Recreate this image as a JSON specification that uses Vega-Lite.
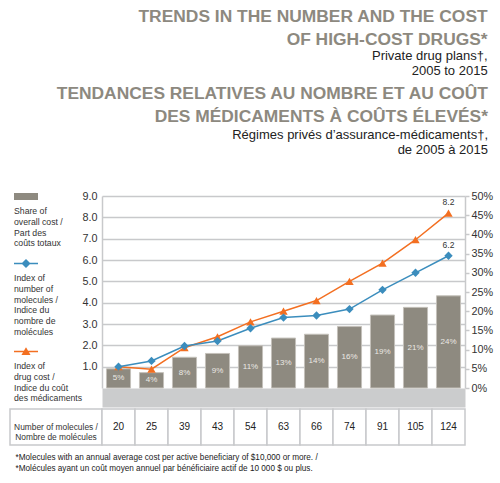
{
  "$schema": "https://vega.github.io/schema/vega-lite/v6.json",
  "autosize": {"type": "none"},
  "padding": {"left": 10, "top": 196, "right": 490, "bottom": 287},
  "background": "white",
  "config": {
    "font": "Liberation Sans",
    "view": {"stroke": null},
    "axis": {"labelFont": "Liberation Sans", "titleFont": "Liberation Sans"}
  },
  "title": {
    "text": ["TRENDS IN THE NUMBER AND THE COST", "OF HIGH-COST DRUGS*"],
    "subtitle": ["Private drug plans†,", "2005 to 2015"],
    "anchor": "end", "frame": "bounds", "dx": -5,
    "font": "Liberation Sans", "fontSize": 17.4, "fontWeight": "bold", "color": "#8d897f", "lineHeight": 23,
    "subtitleFont": "Liberation Sans", "subtitleFontSize": 13, "subtitleColor": "#222222", "subtitleLineHeight": 15, "subtitlePadding": 2,
    "offset": 7
  },
  "datasets": {
    "main": [
      {"year": "2005", "share": 0.05},
      {"year": "2006", "share": 0.04},
      {"year": "2007", "share": 0.08},
      {"year": "2008", "share": 0.09},
      {"year": "2009", "share": 0.11},
      {"year": "2010", "share": 0.13},
      {"year": "2011", "share": 0.14},
      {"year": "2012", "share": 0.16},
      {"year": "2013", "share": 0.19},
      {"year": "2014", "share": 0.21},
      {"year": "2015", "share": 0.24}
    ],
    "idx": [
      {"year": "2005", "series": "cost", "value": 1.0},
      {"year": "2006", "series": "cost", "value": 0.88},
      {"year": "2007", "series": "cost", "value": 1.89},
      {"year": "2008", "series": "cost", "value": 2.4},
      {"year": "2009", "series": "cost", "value": 3.1},
      {"year": "2010", "series": "cost", "value": 3.6},
      {"year": "2011", "series": "cost", "value": 4.1},
      {"year": "2012", "series": "cost", "value": 5.0},
      {"year": "2013", "series": "cost", "value": 5.85},
      {"year": "2014", "series": "cost", "value": 6.95},
      {"year": "2015", "series": "cost", "value": 8.2},
      {"year": "2005", "series": "mol", "value": 1.0},
      {"year": "2006", "series": "mol", "value": 1.27},
      {"year": "2007", "series": "mol", "value": 1.97},
      {"year": "2008", "series": "mol", "value": 2.2},
      {"year": "2009", "series": "mol", "value": 2.8},
      {"year": "2010", "series": "mol", "value": 3.3},
      {"year": "2011", "series": "mol", "value": 3.4},
      {"year": "2012", "series": "mol", "value": 3.7},
      {"year": "2013", "series": "mol", "value": 4.6},
      {"year": "2014", "series": "mol", "value": 5.4},
      {"year": "2015", "series": "mol", "value": 6.2}
    ],
    "keys": [
      {"year": "2005", "series": "share", "value": 1.0},
      {"year": "2005", "series": "mol", "value": 1.0},
      {"year": "2005", "series": "cost", "value": 1.0}
    ],
    "table": [
      {"year": "2005", "molecules": 20},
      {"year": "2006", "molecules": 25},
      {"year": "2007", "molecules": 39},
      {"year": "2008", "molecules": 43},
      {"year": "2009", "molecules": 54},
      {"year": "2010", "molecules": 63},
      {"year": "2011", "molecules": 66},
      {"year": "2012", "molecules": 74},
      {"year": "2013", "molecules": 91},
      {"year": "2014", "molecules": 105},
      {"year": "2015", "molecules": 124}
    ]
  },
  "bounds": "flush",
  "columns": 2,
  "spacing": {"row": 21, "column": 0},
  "resolve": {"scale": {"color": "independent", "shape": "independent"}, "legend": {"color": "independent", "shape": "independent"}},
  "concat": [
    {
      "width": 92,
      "height": 192,
      "data": {"values": []},
      "mark": "point"
    },
    {
      "width": 363,
      "height": 192,
      "title": {
        "text": ["TENDANCES RELATIVES AU NOMBRE ET AU COÛT", "DES MÉDICAMENTS À COÛTS ÉLEVÉS*"],
        "subtitle": ["Régimes privés d’assurance-médicaments†,", "de 2005 à 2015"],
        "anchor": "end", "frame": "group", "dx": 23,
        "font": "Liberation Sans", "fontSize": 17.4, "fontWeight": "bold", "color": "#8d897f", "lineHeight": 23,
        "subtitleFont": "Liberation Sans", "subtitleFontSize": 13, "subtitleColor": "#222222", "subtitleLineHeight": 15, "subtitlePadding": 3,
        "offset": 28
      },
      "encoding": {
        "x": {
          "field": "year", "type": "ordinal",
          "scale": {"paddingInner": 0.27, "paddingOuter": 0.135},
          "axis": {
            "title": null, "orient": "bottom", "offset": 9.5,
            "domain": true, "domainColor": "#cbcccd", "domainWidth": 19,
            "ticks": false, "tickSize": 0,
            "labelFontSize": 7.2, "labelColor": "#333333", "labelBaseline": "middle", "labelPadding": 1, "labelAngle": 0
          }
        }
      },
      "layer": [
        {
          "data": {"name": "main"},
          "mark": {"type": "bar", "stroke": "#c4c1ba", "strokeWidth": 1},
          "encoding": {
            "y": {
              "field": "share", "type": "quantitative",
              "scale": {"domain": [0, 0.5], "nice": false},
              "axis": {
                "orient": "right", "title": null, "grid": false,
                "values": [0, 0.05, 0.1, 0.15, 0.2, 0.25, 0.3, 0.35, 0.4, 0.45, 0.5],
                "format": ".0%",
                "domain": true, "domainColor": "#c8c9cb", "domainWidth": 1.5,
                "ticks": true, "tickSize": 4, "tickColor": "#c8c9cb", "tickWidth": 1.5,
                "labelFontSize": 10.8, "labelColor": "#333333", "labelPadding": 2
              }
            },
            "color": {
              "datum": "share",
              "title": null,
              "scale": {"domain": ["share", "mol", "cost"], "range": ["#8e8a80", "#3b8dbd", "#f36f21"]},
              "legend": {
                "orient": "none", "legendX": -88, "legendY": -11.5, "title": null, "padding": 0,
                "symbolSize": 576, "symbolStrokeWidth": 0, "symbolOffset": 0, "symbolOpacity": 1,
                "labelExpr": "datum.value === 'share' ? ['', 'Share of','overall cost /','Part des','coûts totaux'] : datum.value === 'mol' ? ['', 'Index of','number of','molecules /','Indice du','nombre de','molécules'] : ['', 'Index of','drug cost /','Indice du coût','des médicaments']",
                "labelBaseline": "top", "labelOffset": -24, "labelFontSize": 8.7, "labelColor": "#333333", "labelLimit": 200,
                "rowPadding": 3,
                "encode": {"labels": {"dy": {"value": -3}, "lineHeight": {"value": 10}}}
              }
            }
          }
        },
        {
          "data": {"name": "main"},
          "mark": {"type": "text", "fontSize": 8, "color": "#ebe9e4", "baseline": "middle"},
          "encoding": {
            "y": {"field": "share", "type": "quantitative", "scale": {"domain": [0, 1], "nice": false}, "axis": null},
            "text": {"field": "share", "type": "quantitative", "format": ".0%"}
          }
        },
        {
          "data": {"name": "idx"},
          "encoding": {
            "y": {
              "field": "value", "type": "quantitative",
              "scale": {"domain": [0, 9], "nice": false},
              "axis": {
                "orient": "left", "title": null,
                "values": [1, 2, 3, 4, 5, 6, 7, 8, 9], "format": ".1f",
                "grid": true, "gridColor": "#c8c9cb", "gridWidth": 1.5,
                "domain": true, "domainColor": "#c8c9cb", "domainWidth": 1.5,
                "ticks": false, "labelFontSize": 10.8, "labelColor": "#333333", "labelPadding": 5
              }
            },
            "color": {
              "field": "series", "type": "nominal", "title": null,
              "legend": {
                "orient": "none", "legendX": -88, "legendY": -11.5, "title": null, "padding": 0,
                "symbolSize": 576, "symbolStrokeWidth": 0, "symbolOffset": 0, "symbolOpacity": 1,
                "labelExpr": "datum.value === 'share' ? ['', 'Share of','overall cost /','Part des','coûts totaux'] : datum.value === 'mol' ? ['', 'Index of','number of','molecules /','Indice du','nombre de','molécules'] : ['', 'Index of','drug cost /','Indice du coût','des médicaments']",
                "labelBaseline": "top", "labelOffset": -24, "labelFontSize": 8.7, "labelColor": "#333333", "labelLimit": 200,
                "rowPadding": 3,
                "encode": {"labels": {"dy": {"value": -3}, "lineHeight": {"value": 10}}}
              }
            }
          },
          "layer": [
            {
              "mark": {"type": "line", "strokeWidth": 1.5},
              "encoding": {"order": {"field": "year"}}
            },
            {
              "transform": [{"filter": "datum.series === 'cost'"}],
              "mark": {"type": "point", "filled": true, "opacity": 1, "size": 70, "shape": "triangle-up"}
            },
            {
              "transform": [{"filter": "datum.series === 'mol'"}],
              "mark": {"type": "point", "filled": true, "opacity": 1, "size": 70, "shape": "diamond"}
            },
            {
              "data": {"name": "keys"},
              "mark": {"type": "point", "filled": true, "opacity": 0},
              "encoding": {
                "shape": {
                  "field": "series", "type": "nominal", "title": null,
                  "scale": {"domain": ["share", "mol", "cost"], "range": ["M0,-1Z M0,1Z M-1,-0.29H1V0.29H-1Z", "M0,-1Z M0,1Z M-1,-0.06H1V0.06H-1Z M0,-0.38L0.38,0L0,0.38L-0.38,0Z", "M0,-1Z M0,1Z M-1,-0.06H1V0.06H-1Z M0,-0.36L0.38,0.3L-0.38,0.3Z"]},
                  "legend": {
                    "orient": "none", "legendX": -88, "legendY": -11.5, "title": null, "padding": 0,
                    "symbolSize": 576, "symbolStrokeWidth": 0, "symbolOffset": 0, "symbolOpacity": 1,
                    "labelExpr": "datum.value === 'share' ? ['', 'Share of','overall cost /','Part des','coûts totaux'] : datum.value === 'mol' ? ['', 'Index of','number of','molecules /','Indice du','nombre de','molécules'] : ['', 'Index of','drug cost /','Indice du coût','des médicaments']",
                    "labelBaseline": "top", "labelOffset": -24, "labelFontSize": 8.7, "labelColor": "#333333", "labelLimit": 200,
                    "rowPadding": 3,
                    "encode": {"labels": {"dy": {"value": -3}, "lineHeight": {"value": 10}}}
                  }
                }
              }
            },
            {
              "transform": [{"filter": "datum.year === '2015'"}],
              "mark": {"type": "text", "fontSize": 8.5, "color": "#333333", "dy": -11},
              "encoding": {
                "color": {"value": "#333333"},
                "text": {"field": "value", "type": "quantitative", "format": ".1f"}
              }
            }
          ]
        }
      ],
      "resolve": {"scale": {"y": "independent"}}
    },
    {
      "width": 92,
      "height": 36,
      "view": {"stroke": "#c8c9cb", "strokeWidth": 1.5},
      "data": {"values": [{"label": "Number of molecules /\nNombre de molécules"}]},
      "mark": {"type": "text", "lineBreak": "\n", "fontSize": 8.4, "lineHeight": 10, "color": "#333333"},
      "encoding": {"text": {"field": "label"}}
    },
    {
      "width": 363,
      "height": 36,
      "data": {"name": "table"},
      "encoding": {
        "x": {
          "field": "year", "type": "ordinal",
          "scale": {"paddingInner": 0, "paddingOuter": 0},
          "axis": {
            "orient": "bottom", "labels": false, "ticks": false, "domain": false,
            "title": ["*Molecules with an annual average cost per active beneficiary of $10,000 or more. /", "*Molécules ayant un coût moyen annuel par bénéficiaire actif de 10 000 $ ou plus."],
            "titleFontSize": 8.2, "titleFontWeight": "normal", "titleColor": "#222222",
            "titleAnchor": "start", "titleAlign": "left", "titleBaseline": "alphabetic",
            "titleX": -87, "titleY": 14, "titleLineHeight": 11
          }
        },
        "y": {"datum": "row", "type": "nominal", "axis": null}
      },
      "layer": [
        {"mark": {"type": "rect", "fill": "white", "stroke": "#c8c9cb", "strokeWidth": 1.5}},
        {"mark": {"type": "text", "fontSize": 10, "color": "#222222"}, "encoding": {"text": {"field": "molecules", "type": "quantitative"}}}
      ]
    }
  ]
}
